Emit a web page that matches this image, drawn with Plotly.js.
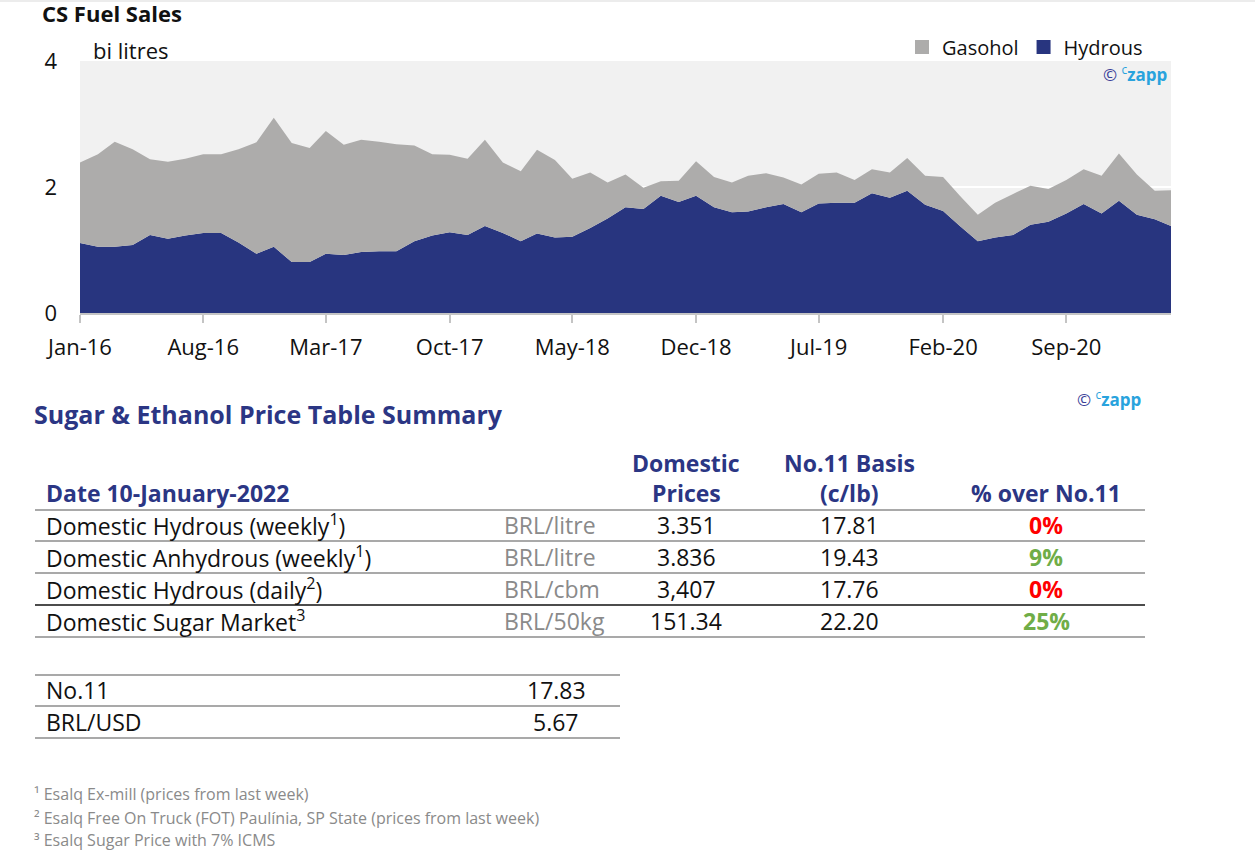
<!DOCTYPE html>
<html>
<head>
<meta charset="utf-8">
<script src="https://cdn.plot.ly/plotly-3.0.1.min.js"></script>
<style>
html,body{margin:0;padding:0;background:#fff;}
#chart{width:1255px;height:850px;}
</style>
</head>
<body>
<div id="chart"></div>
<script>
// ---------- chart data ----------
const months = [
  '2016-01-01','2016-02-01','2016-03-01','2016-04-01','2016-05-01','2016-06-01','2016-07-01','2016-08-01','2016-09-01','2016-10-01','2016-11-01','2016-12-01',
  '2017-01-01','2017-02-01','2017-03-01','2017-04-01','2017-05-01','2017-06-01','2017-07-01','2017-08-01','2017-09-01','2017-10-01','2017-11-01','2017-12-01',
  '2018-01-01','2018-02-01','2018-03-01','2018-04-01','2018-05-01','2018-06-01','2018-07-01','2018-08-01','2018-09-01','2018-10-01','2018-11-01','2018-12-01',
  '2019-01-01','2019-02-01','2019-03-01','2019-04-01','2019-05-01','2019-06-01','2019-07-01','2019-08-01','2019-09-01','2019-10-01','2019-11-01','2019-12-01',
  '2020-01-01','2020-02-01','2020-03-01','2020-04-01','2020-05-01','2020-06-01','2020-07-01','2020-08-01','2020-09-01','2020-10-01','2020-11-01','2020-12-01',
  '2021-01-01','2021-02-01','2021-03-01'
];
const hydrous = [
  1.11,1.05,1.05,1.08,1.24,1.18,1.23,1.27,1.27,1.12,0.94,1.05,
  0.81,0.81,0.94,0.92,0.97,0.98,0.98,1.14,1.23,1.28,1.24,1.38,
  1.27,1.14,1.26,1.20,1.21,1.35,1.50,1.68,1.65,1.86,1.76,1.86,
  1.68,1.60,1.61,1.68,1.73,1.60,1.74,1.75,1.75,1.90,1.83,1.94,
  1.72,1.62,1.38,1.14,1.20,1.24,1.40,1.45,1.58,1.73,1.58,1.78,
  1.56,1.49,1.38
];
const gasohol = [
  1.28,1.47,1.67,1.52,1.20,1.22,1.22,1.25,1.25,1.48,1.77,2.05,
  1.89,1.81,1.95,1.75,1.78,1.74,1.70,1.52,1.29,1.23,1.21,1.37,
  1.12,1.11,1.33,1.23,0.92,0.88,0.57,0.52,0.34,0.23,0.34,0.55,
  0.48,0.47,0.57,0.54,0.42,0.44,0.47,0.48,0.36,0.38,0.40,0.52,
  0.46,0.54,0.48,0.42,0.55,0.65,0.62,0.52,0.53,0.55,0.60,0.75,
  0.64,0.45,0.57
];
const seriesNames = ['Hydrous','Gasohol'];
const yTicks = [0,2,4];

// ---------- table data ----------
const headerTop = ['', 'Domestic', 'No.11 Basis', ''];
const headerBottom = ['Date 10-January-2022', 'Prices', '(c/lb)', '% over No.11'];
const rowLabels = ['Domestic Hydrous (weekly<sup>1</sup>)', 'Domestic Anhydrous (weekly<sup>1</sup>)', 'Domestic Hydrous (daily<sup>2</sup>)', 'Domestic Sugar Market<sup>3</sup>'];
const rowUnits = ['BRL/litre', 'BRL/litre', 'BRL/cbm', 'BRL/50kg'];
const domesticPrices = ['3.351', '3.836', '3,407', '151.34'];
const basisPrices = ['17.81', '19.43', '17.76', '22.20'];
const pctOver = [0, 9, 0, 25];
const refLabels = ['No.11', 'BRL/USD'];
const refValues = ['17.83', '5.67'];
const footnotes = ['\u00b9 Esalq Ex-mill (prices from last week)', '\u00b2 Esalq Free On Truck (FOT) Paul\u00ednia, SP State (prices from last week)', '\u00b3 Esalq Sugar Price with 7% ICMS'];

// ---------- helpers ----------
const W = 1255, H = 850;
const px = x => x / W;
const py = y => 1 - y / H;
const NAVY = '#2b3684';
const FONT = '"Open Sans", "Noto Sans", sans-serif';
const BODY = 23;

const traces = [
  {x: months, y: hydrous, name: seriesNames[0], type: 'scatter', mode: 'none', stackgroup: 'one',
   fillcolor: '#28357f', showlegend: false, hoverinfo: 'x+y'},
  {x: months, y: gasohol, name: seriesNames[1], type: 'scatter', mode: 'none', stackgroup: 'one',
   fillcolor: '#adacab', showlegend: false, hoverinfo: 'x+y'},
  {x: [null], y: [null], name: seriesNames[0], type: 'scatter', mode: 'markers',
   marker: {symbol: 'square', size: 14, color: '#28357f'}, showlegend: true},
  {x: [null], y: [null], name: seriesNames[1], type: 'scatter', mode: 'markers',
   marker: {symbol: 'square', size: 14, color: '#adacab'}, showlegend: true}
];

const annotations = [];
const shapes = [];
function txt(x, y, text, opts) {
  const o = opts || {};
  const anchor = o.xanchor || 'left';
  const dx = anchor === 'left' ? -3 : (anchor === 'right' ? 3 : 0);
  annotations.push(Object.assign({
    xref: 'paper', yref: 'paper', x: px(x + dx), y: py(y), text: text, showarrow: false,
    xanchor: 'left', yanchor: 'middle', font: {family: FONT, size: BODY, color: '#111'}
  }, o));
}
function hline(x0, x1, y, color, w) {
  shapes.push({type: 'line', xref: 'paper', yref: 'paper', x0: px(x0), x1: px(x1), y0: py(y), y1: py(y),
    line: {color: color, width: w}});
}

// chart texts
txt(94, 50, 'bi litres', {font: {family: FONT, size: 22, color: '#111'}});
const czapp = '<span style="color:#3b3f98">\u00a9</span> <span style="color:#29a3dd"><sup>c</sup><b>zapp</b></span>';
txt(1166, 73, czapp, {xanchor: 'right', font: {family: FONT, size: 17, color: '#29a3dd'}});

// table section
txt(35, 414, '<b>Sugar &amp; Ethanol Price Table Summary</b>', {font: {family: FONT, size: 25, color: NAVY}});
txt(1140, 398, czapp, {xanchor: 'right', font: {family: FONT, size: 17, color: '#29a3dd'}});

const colX = [47, 686, 849, 1046];
headerTop.forEach((t, i) => { if (t) txt(colX[i], 463, '<b>' + t + '</b>', {xanchor: i === 0 ? 'left' : 'center', font: {family: FONT, size: 23, color: NAVY}}); });
headerBottom.forEach((t, i) => { txt(colX[i], 493, '<b>' + t + '</b>', {xanchor: i === 0 ? 'left' : 'center', font: {family: FONT, size: 23, color: NAVY}}); });

const rowY = [525, 557, 589, 621];
rowLabels.forEach((t, i) => {
  txt(47, rowY[i], t);
  txt(505, rowY[i], rowUnits[i], {font: {family: FONT, size: BODY, color: '#8a8a8a'}});
  txt(686, rowY[i], domesticPrices[i], {xanchor: 'center'});
  txt(849, rowY[i], basisPrices[i], {xanchor: 'center'});
  txt(1046, rowY[i], '<b>' + pctOver[i] + '%</b>', {xanchor: 'center',
    font: {family: FONT, size: BODY, color: pctOver[i] > 0 ? '#70ad47' : '#ff0000'}});
});
[510, 541, 573, 637].forEach(y => hline(35, 1145, y, '#8c8c8c', 1.5));
hline(35, 1145, 605, '#111', 1.5);

const refY = [690, 722];
refLabels.forEach((t, i) => {
  txt(47, refY[i], t);
  txt(556, refY[i], refValues[i], {xanchor: 'center'});
});
[675, 706, 738].forEach(y => hline(35, 620, y, '#8c8c8c', 1.5));

const footY = [794, 818, 840];
footnotes.forEach((t, i) => txt(35, footY[i], t, {font: {family: FONT, size: 16, color: '#8a8a8a'}}));

// faint top border
hline(0, W, 1, '#ececec', 2);

const layout = {
  width: W, height: H,
  margin: {l: 0, r: 0, t: 0, b: 0, pad: 0},
  paper_bgcolor: '#ffffff',
  plot_bgcolor: '#f1f1f1',
  font: {family: FONT, size: 22, color: '#111'},
  title: {text: '<b>CS Fuel Sales</b>', x: px(42), xanchor: 'left', y: py(14), yanchor: 'middle',
          xref: 'container', yref: 'container', font: {family: FONT, size: 22, color: '#111'}},
  xaxis: {
    domain: [px(80), px(1171)], type: 'date', range: ['2016-01-01', '2021-03-01'],
    tick0: '2016-01-01', dtick: 'M7', tickformat: '%b-%y',
    ticks: 'outside', ticklen: 8, tickwidth: 2, tickcolor: '#c4c4c4',
    showline: true, linecolor: '#c4c4c4', linewidth: 2, showgrid: false, zeroline: false,
    ticklabelstandoff: 6, tickfont: {family: FONT, size: 22, color: '#111'}, fixedrange: true
  },
  yaxis: {
    domain: [py(313), py(61)], range: [0, 4], tickvals: yTicks,
    showgrid: true, gridcolor: '#ffffff', gridwidth: 2, zeroline: false, showline: false,
    ticks: '', ticklabelstandoff: 22, tickfont: {family: FONT, size: 22, color: '#111'}, fixedrange: true
  },
  showlegend: true,
  legend: {orientation: 'h', x: px(902), xanchor: 'left', y: py(47), yanchor: 'middle',
           traceorder: 'reversed', font: {family: FONT, size: 20, color: '#111'},
           bgcolor: 'rgba(0,0,0,0)', itemwidth: 30, itemclick: false},
  annotations: annotations,
  shapes: shapes,
  hovermode: false
};

Plotly.newPlot('chart', traces, layout, {displayModeBar: false, staticPlot: true});
</script>
</body>
</html>
